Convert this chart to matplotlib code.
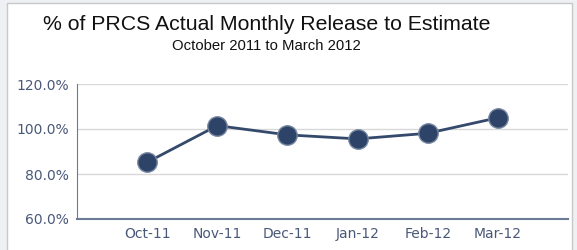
import matplotlib.pyplot as plt
from matplotlib.patches import Rectangle
from matplotlib.ticker import FuncFormatter
import numpy as np

# chart data
months = ["Oct-11", "Nov-11", "Dec-11", "Jan-12", "Feb-12", "Mar-12"]
pct_release = [85.2, 101.5, 97.4, 95.6, 98.1, 105.0]
y_ticks = [60, 80, 100, 120]

fig = plt.figure(figsize=(5.77, 2.5), dpi=100)
fig.patch.set_facecolor("#eef0f3")

# white panel with thin grey border, kept behind the axes
panel = Rectangle((7 / 577, -0.01), 565 / 577, 1.0 - 3 / 250 + 0.01,
                  transform=fig.transFigure, facecolor="white",
                  edgecolor="#c8c8c8", linewidth=1, zorder=-10)
fig.add_artist(panel)

ax = fig.add_axes([77 / 577, 31 / 250, 491 / 577, 135 / 250])
ax.set_facecolor("none")

x = np.arange(len(months))
ax.plot(x, pct_release, color="#34496b", linewidth=2, marker="o",
        markersize=14, markerfacecolor="#2d4468", markeredgecolor="#7887a0",
        markeredgewidth=1, zorder=3)

ax.set_xlim(-1, len(months))
ax.set_ylim(60, 120)
ax.set_yticks(y_ticks)
ax.yaxis.set_major_formatter(FuncFormatter(lambda v, _: f"{v:.1f}%"))
ax.set_xticks(x)
ax.set_xticklabels(months)

ax.grid(axis="y", color="#d8d8d8", linewidth=1)
ax.set_axisbelow(True)
for s in ["top", "right"]:
    ax.spines[s].set_visible(False)
ax.spines["left"].set_color("#6b7a95")
ax.spines["bottom"].set_color("#6b7a95")
ax.spines["bottom"].set_linewidth(1.5)
ax.tick_params(length=0, labelsize=10, labelcolor="#4a5878", pad=6)

fig.text(267 / 577, 1 - 25 / 250, "% of PRCS Actual Monthly Release to Estimate",
         ha="center", va="center", fontsize=15.3, family="Liberation Sans", color="#111111")
fig.text(266 / 577, 1 - 46 / 250, "October 2011 to March 2012",
         ha="center", va="center", fontsize=10.7, family="Liberation Sans", color="#111111")

fig.savefig("out.png", dpi=100)
